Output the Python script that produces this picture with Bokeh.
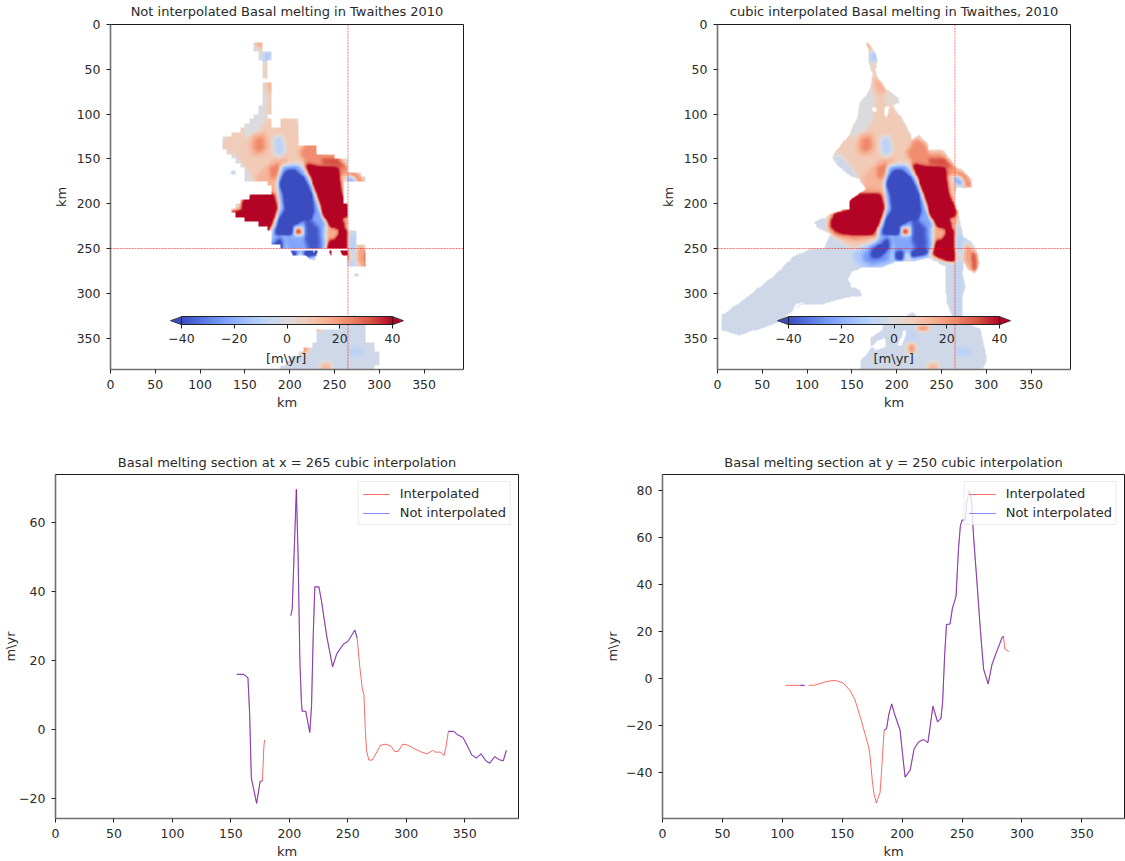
import numpy as np
from bokeh.plotting import figure
from bokeh.layouts import row, column
from bokeh.embed import file_html
from bokeh.resources import INLINE
from bokeh.models import (Range1d, FixedTicker, LinearColorMapper, ColorBar, Span, Label,
                          Legend, LegendItem)

nan = float("nan")
FONT = "DejaVu Sans"
TXT = "#2a2a2a"
TICK_FS = "12.5px"
TEXT_FS = "13px"

# ------------------------ data: sections (km, m/yr) ------------------------
sec_x_interp_km = [155, 161, 164.6, 166, 167.5, 172, 175, 177, 178.2, 178.8, nan,
    201.3, 202.5, 204, 206, 207.5, 209, 210.3, 211, 214, 217.5, 219, 220.4, 221.8, 225.3, 227.6,
    232, 237, 240.6, 246.5, 250, 253.7, 256, 258, 260, 262.3, 263.8, 265, 266, 268, 271, 274, 278,
    282.6, 287, 290, 293, 297, 301.4, 307, 313, 318, 322.5, 324.6, 329, 332.4, 334, 336, 340.5,
    344, 348.5, 352, 356, 360, 364, 368, 371.4, 375.7, 379.5, 383, 385.6]
sec_x_interp_val = [16, 16, 15, 5, -14, -21.3, -15, -14.8, -5, -3, nan,
    33, 35, 50, 69.5, 50, 20, 8, 5.3, 5.3, -0.8, 7, 27, 41.3, 41.3, 37,
    27, 18.2, 22, 24.8, 25.5, 27.5, 28.8, 26.5, 19, 12, 10, 0, -6, -8.8, -8.8, -7, -4.5,
    -4.2, -4.8, -6.3, -6.3, -4.2, -4.5, -5.5, -6.5, -7, -6, -6.5, -6.5, -7.5, -5, -0.5, -0.5,
    -1.5, -2.3, -4.5, -7.3, -8.2, -7, -9, -9.7, -7.8, -8.7, -9, -6]
sec_x_plain_km = [155, 161, 164.6, 166, 167.5, 172, 175, 177, nan,
    201.3, 202.5, 204, 206, 207.5, 209, 210.3, 211, 214, 217.5, 219, 220.4, 221.8, 225.3, 227.6,
    232, 237, 240.6, 246.5, 250, 253.7, 256, 258, nan,
    336, 340.5, 344, 348.5, 352, 356, 360, 364, 368, 371.4, 375.7, 379.5, 383, 385.6]
sec_x_plain_val = [16, 16, 15, 5, -14, -21.3, -15, -14.8, nan,
    33, 35, 50, 69.5, 50, 20, 8, 5.3, 5.3, -0.8, 7, 27, 41.3, 41.3, 37,
    27, 18.2, 22, 24.8, 25.5, 27.5, 28.8, 26.5, nan,
    -0.5, -0.5, -1.5, -2.3, -4.5, -7.3, -8.2, -7, -9, -9.7, -7.8, -8.7, -9, -6]

sec_y_interp_km = [102.8, 118.7, nan, 122, 127, 134, 141, 145, 151, 156.4, 160.6, 166, 172, 173, 175,
    176.5, 178.5, 181.6, 183, 185, 187, 189, 191.3, 193.6, 198.3, 200.3, 202.5, 206.7, 210, 213.7,
    217.9, 221.5, 223.5, 225.7, 229.6, 232.4, 233.8, 235.5, 237, 240, 242, 245, 247, 248.6, 250,
    252.8, 254, 256, 257.8, 259.7, 262.6, 265.4, 268, 271.8, 275, 279.3, 283.5, 284.6, 285.8, 289]
sec_y_interp_val = [-2.9, -2.9, nan, -2.9, -2.8, -1.7, -0.9, -0.9, -2, -5, -9, -18, -29, -32, -43,
    -49, -53, -48.5, -38, -22, -21.3, -15, -10.8, -15, -22, -32, -42, -39, -30, -27,
    -26, -27.3, -20, -11.8, -18.5, -17, -10, 10, 23, 23.2, 30, 35, 55, 65, 67.5,
    67.5, 75, 80, 76, 60, 40, 20, 4, -2.3, 6, 12, 17.5, 18, 12.5, 11.5]
sec_y_plain_km = [115, 118.7, nan, 185, 187, 189, 191.3, 193.6, 198.3, 200.3, 202.5, 206.7, 210, 213.7,
    217.9, 221.5, 223.5, 225.7, 229.6, 232.4, 233.8, 235.5, 237, 240, 242, 245, 247, 248.6, 250,
    252.8, 254, 256, 257.8, 259.7, 262.6, 265.4, 268, 271.8, 275, 279.3, 283.5, 284.6]
sec_y_plain_val = [-2.9, -2.9, nan, -22, -21.3, -15, -10.8, -15, -22, -32, -42, -39, -30, -27,
    -26, -27.3, -20, -11.8, -18.5, -17, -10, 10, 23, 23.2, 30, 35, 55, 65, 67.5,
    67.5, 75, 80, 76, 60, 40, 20, 4, -2.3, 6, 12, 17.5, 18]

# ------------------------ data: map outlines ------------------------
# traced coordinates are in 1/2.685 km; the interpolated panel's x has an offset of 6
shelf_outline = [(450,65),(465,75),(480,100),(488,120),(478,150),(490,175),(510,205),(545,228),(552,245),(530,255),
    (565,300),(590,355),(612,342),(635,370),(640,390),(670,385),(690,395),(710,425),(720,440),(745,450),(765,475),
    (770,500),(745,503),(725,500),(715,530),(718,550),(728,575),(733,605),(738,630),(745,650),(770,665),(785,695),
    (790,730),(778,760),(755,745),(745,725),(700,732),(680,735),(640,712),(580,725),(540,725),(500,740),(440,740),
    (410,755),(395,775),(410,800),(435,810),(440,825),(380,835),(320,850),(270,850),(235,865),(265,845),(240,850),
    (232,872),(180,910),(70,945),(20,930),(18,885),(80,840),(170,770),(230,710),(285,685),(325,683),(345,640),(310,625),
    (295,605),(330,590),(345,580),(400,565),(400,540),(430,520),(450,505),(430,475),(410,470),(370,440),(350,410),
    (360,395),(365,385),(400,345),(425,290),(430,250),(450,225),(465,200),(470,160),(458,120),(458,90)]
strip_outline = [(692,730),(745,725),(742,760),(750,800),(740,830),(738,900),(712,900),(695,850),(690,800)]
south_outline = [(590,872),(610,895),(740,895),(770,915),(795,925),(800,950),(810,1000),(812,1020),(800,1050),(436,1050),
    (436,1020),(465,985),(465,950),(500,930),(500,915),(555,900)]
hole_outlines = [[(465,978),(505,950),(512,980),(480,990)], [(545,975),(565,930),(572,935),(560,975)],
    [(470,262),(480,262),(480,272),(470,272)], [(505,262),(522,258),(515,288),(506,288)]]

plain_outline = [(428,72),(458,72),(458,88),(475,88),(480,115),(475,130),(475,170),(460,170),(460,185),(485,185),(485,255),
    (470,290),(490,315),(510,315),(515,298),(570,298),(560,340),(570,370),(620,370),(620,405),(690,410),(715,430),
    (715,450),(750,455),(765,485),(705,488),(695,520),(695,548),(715,555),(715,625),(735,625),(735,675),(765,675),
    (765,733),(718,733),(715,690),(530,690),(490,670),(480,625),(460,620),(420,600),(385,590),(365,578),(360,565),
    (385,545),(420,525),(490,525),(490,495),(465,485),(420,485),(400,470),(400,450),(380,425),(350,398),(330,372),
    (345,345),(390,330),(420,300),(450,260),(460,200),(460,170),(450,125),(445,90),(428,85)]
plain_south = [(622,925),(680,925),(730,885),(765,925),(765,960),(780,965),(805,995),(805,1020),(795,1050),(510,1050),
    (510,1040),(575,985),(605,985),(605,960),(622,960)]
plain_fine = [[(540,690),(610,690),(615,720),(595,715),(585,705),(545,705)], [(613,690),(620,690),(618,708),(613,708)],
    [(656,690),(664,690),(663,705),(657,705)], [(690,690),(715,690),(715,705),(695,705)],
    [(730,760),(743,760),(743,767),(730,767)], [(358,452),(372,450),(376,462),(362,460)]]

# value (m/yr) painted region by region, later regions over earlier ones
melt_regions = [
    (8,  [(450,65),(465,75),(480,100),(488,120),(478,150),(490,175),(510,205),(545,228),(552,245),(530,255),(565,300),(590,355),
          (612,342),(635,370),(640,390),(670,385),(690,395),(710,425),(725,440),(720,530),(725,600),(650,700),(430,700),(345,640),
          (400,540),(450,505),(430,475),(405,470),(365,430),(355,400),(400,345),(425,290),(430,250),(450,225),(465,200),(470,160),(458,120)]),
    (7,  [(330,385),(350,340),(396,320),(430,290),(450,300),(430,345),(405,405),(370,405)]),
    (-1, [(435,250),(450,225),(465,200),(478,240),(470,300),(450,330),(410,350),(403,340),(425,290)]),
    (14, [(430,55),(478,55),(472,88),(445,85)]),
    (-12,[(462,92),(484,92),(484,125),(462,125)]),
    (5,  [(460,130),(490,130),(490,180),(465,180)]),
    (14, [(472,170),(495,175),(515,210),(500,225),(478,205)]),
    (2,  [(505,215),(550,230),(535,260),(510,250)]),
    (-4, [(350,410),(375,400),(425,462),(405,472),(365,430)]),
    (14, [(430,345),(470,335),(480,370),(470,405),(430,405),(420,375)]),
    (23, [(440,352),(465,348),(470,382),(450,397),(435,385)]),
    (-9, [(495,350),(520,345),(532,392),(510,410),(495,395)]),
    (22, [(570,395),(600,352),(632,370),(640,400),(680,400),(716,440),(716,470),(640,440),(590,430)]),
    (32, [(640,412),(690,412),(716,440),(700,442),(640,432)]),
    (14, [(440,470),(490,420),(540,410),(520,450),(500,510),(440,510)]),
    (24, [(482,440),(512,425),(516,440),(500,478),(485,472)]),
    (22, [(718,445),(750,455),(770,490),(770,503),(745,503),(745,480),(720,462)]),
    (-20,[(710,462),(740,478),(745,495),(718,490)]),
    (-22,[(520,435),(570,430),(600,470),(625,530),(645,585),(660,620),(650,690),(630,705),(520,720),(490,690),(490,630),(515,560),(505,490)]),
    (60, [(590,430),(640,440),(690,445),(700,520),(710,545),(725,575),(710,615),(700,625),(715,625),(718,690),(718,725),
          (690,720),(650,705),(655,680),(665,625),(640,580),(620,510)]),
    (16, [(652,612),(695,628),(680,660),(650,660)]),
    (14, [(698,590),(725,585),(730,610),(705,612)]),
    (-60,[(530,452),(560,450),(590,480),(610,530),(615,570),(610,590),(575,600),(550,640),(500,640),(510,600),(530,570),(525,520),(515,490)]),
    (-38,[(600,590),(630,620),(635,680),(600,690),(585,650),(580,610)]),
    (-12,[(410,690),(530,640),(540,735),(450,748),(415,725)]),
    (-25,[(440,700),(490,655),(530,650),(520,722),(470,735),(440,720)]),
    (-52,[(470,688),(500,670),(515,650),(522,680),(492,710),(466,710)]),
    (-52,[(540,692),(565,692),(565,720),(540,720)]),
    (-52,[(585,692),(635,685),(635,705),(585,712)]),
    (-10,[(552,612),(588,612),(590,650),(552,650)]),
    (48, [(562,624),(579,624),(579,640),(562,640)]),
    (12, [(570,695),(578,695),(578,716),(570,716)]),
    (22, [(335,610),(345,575),(395,560),(395,535),(430,505),(500,510),(510,560),(495,610),(480,650),(420,660),(360,650),(335,630)]),
    (60, [(347,600),(360,580),(400,572),(402,542),(432,522),(495,522),(503,565),(490,610),(470,640),(420,642),(370,636),(347,620)]),
    (18, [(745,665),(785,695),(790,730),(778,760),(760,750),(745,722)]),
    (50, [(770,695),(776,695),(782,750),(776,750)]),
    (-9, [(715,640),(745,640),(748,690),(715,690)]),
    (-7, [(712,725),(738,725),(738,895),(712,895)]),
    (-4, [(590,895),(800,895),(812,1050),(436,1050),(470,950)]),
    (-9, [(720,980),(760,980),(765,1005),(725,1010)]),
    (-7, [(570,925),(610,935),(610,965),(570,965)]),
    (22, [(605,915),(640,915),(640,932),(605,932)]),
    (20, [(575,968),(600,968),(598,998),(577,998)]),
    (12, [(635,1025),(670,1025),(670,1050),(635,1050)]),
]

# tick labels and colours
map_ticks = [0, 50, 100, 150, 200, 250, 300, 350]
x_section_ticks = [-20, 0, 20, 40, 60]
y_section_ticks = [-40, -20, 0, 20, 40, 60, 80]
cbar_ticks = [-40, -20, 0, 20, 40]
coolwarm_hex = ["#3b4cc0","#5977e3","#7b9ff9","#9ebeff","#c0d4f5","#dddcdc","#f2cbb7","#f7ac8e","#ee8468","#d65244","#b40426"]

# ------------------------ rasterising ------------------------
W_KM, H_KM = 394, 385
cx = np.arange(W_KM) + 0.5
cy = np.arange(H_KM) + 0.5
GX, GY = np.meshgrid(cx, cy)

def to_km(pts, off):
    a = np.array(pts, float)
    return (a[:, 0] - off) / 2.685, (a[:, 1] - 12) / 2.688

def inside(pts, off, X=GX, Y=GY):
    xs, ys = to_km(pts, off)
    res = np.zeros(X.shape, bool)
    xj, yj = np.roll(xs, 1), np.roll(ys, 1)
    for a, b, c, d in zip(xs, ys, xj, yj):
        if b == d:
            continue
        cond = (b > Y) != (d > Y)
        res ^= cond & (X < (c - a) * (Y - b) / (d - b) + a)
    return res

def blur(a, r, n=2):
    k = np.ones(2 * r + 1) / (2 * r + 1)
    for _ in range(n):
        p = np.pad(a, r, mode="edge")
        p = np.apply_along_axis(lambda m: np.convolve(m, k, "valid"), 0, p)
        p = np.apply_along_axis(lambda m: np.convolve(m, k, "valid"), 1, p)
        a = p
    return a

field = np.full(GX.shape, -4.0)
for v, poly in melt_regions:
    field[inside(poly, 6)] = v
field = blur(field, 2)

mask_r = inside(shelf_outline, 6) | inside(strip_outline, 6) | inside(south_outline, 6)
for h in hole_outlines:
    mask_r &= ~inside(h, 6)

# not interpolated panel: 5 km cells
bx = (np.arange(W_KM) // 5) * 5 + 2.5
by = (np.arange(H_KM) // 5) * 5 + 2.5
BX, BY = np.meshgrid(bx, by)
mask_l = inside(plain_outline, 0, BX, BY) | inside(plain_south, 0, BX, BY)
for h in plain_fine:
    mask_l |= inside(h, 0)

img_r = np.where(mask_r, field, np.nan)
img_l = np.where(mask_l, field, np.nan)

def hex2rgb(h):
    return [int(h[i:i + 2], 16) for i in (1, 3, 5)]
anch = np.array([hex2rgb(h) for h in coolwarm_hex], float)
pos = np.linspace(0, 1, len(anch))
palette = ["#%02x%02x%02x" % tuple(int(round(np.interp(t, pos, anch[:, i]))) for i in range(3))
           for t in np.linspace(0, 1, 256)]

def style(p, xlab, ylab, title, yticks, xticks, ylab_standoff, title_standoff):
    p.title.text = title
    p.title.align = "center"
    p.title.text_font = FONT
    p.title.text_font_size = TEXT_FS
    p.title.text_font_style = "normal"
    p.title.text_color = TXT
    p.title.standoff = title_standoff
    p.grid.visible = False
    p.outline_line_color = "#1a1a1a"
    p.outline_line_width = 1
    for ax in (p.xaxis[0], p.yaxis[0]):
        ax.major_label_text_font = FONT
        ax.major_label_text_font_size = TICK_FS
        ax.major_label_text_color = TXT
        ax.axis_label_text_font = FONT
        ax.axis_label_text_font_size = TEXT_FS
        ax.axis_label_text_font_style = "normal"
        ax.axis_label_text_color = TXT
        ax.major_tick_in = 0
        ax.major_tick_out = 4
        ax.minor_tick_out = 0
        ax.minor_tick_in = 0
        ax.major_tick_line_color = "#222222"
        ax.axis_line_color = "#707070"
        ax.axis_line_width = 1.6
        ax.major_label_standoff = 6
    p.xaxis[0].axis_label = xlab
    p.yaxis[0].axis_label = ylab
    p.xaxis[0].ticker = FixedTicker(ticks=xticks)
    p.yaxis[0].ticker = FixedTicker(ticks=yticks)
    p.xaxis[0].axis_label_standoff = 3
    p.yaxis[0].axis_label_standoff = ylab_standoff
    p.yaxis[0].major_label_overrides = {t: str(t).replace("-", "\u2212") for t in yticks if t < 0}
    return p

def map_panel(w, left, right, title, img, lab_x):
    p = figure(width=w, height=434, x_range=Range1d(0, W_KM), y_range=Range1d(H_KM, 0),
               output_backend="svg", toolbar_location=None, min_border_left=left, min_border_right=right,
               min_border_top=28, min_border_bottom=61, frame_align=False)
    style(p, "km", "km", title, map_ticks, map_ticks, 5, 11)
    mapper = LinearColorMapper(palette=palette, low=-40, high=40, nan_color=(0, 0, 0, 0))
    p.image(image=[img], x=0, y=0, dw=W_KM, dh=H_KM, color_mapper=mapper)
    p.add_layout(Span(location=265, dimension="height", line_color="red", line_width=1, line_alpha=0.55, line_dash="2 1"))
    p.add_layout(Span(location=250, dimension="width", line_color="red", line_width=1, line_alpha=0.55, line_dash="2 1"))
    # extension triangles of the colour bar
    p.patch([79.3, 67, 79.3], [326, 330.5, 335], fill_color=coolwarm_hex[0], line_color="#222222", line_width=0.8)
    p.patch([315, 327, 315], [326, 330.5, 335], fill_color=coolwarm_hex[-1], line_color="#222222", line_width=0.8)
    cb = ColorBar(color_mapper=mapper, orientation="horizontal", location=(71, 24), width=211, height=8, padding=0,
                  ticker=FixedTicker(ticks=cbar_ticks), background_fill_alpha=0, border_line_color=None,
                  bar_line_color="#222222", major_tick_in=0, major_tick_out=4, major_tick_line_color="#222222",
                  minor_tick_line_color=None, major_label_text_font=FONT, major_label_text_font_size=TICK_FS,
                  major_label_text_color=TXT, label_standoff=5,
                  major_label_overrides={t: str(t).replace("-", "\u2212") for t in cbar_ticks if t < 0})
    p.add_layout(cb, "center")
    p.add_layout(Label(x=lab_x, y=373, text="[m\\yr]", text_align="center", text_baseline="middle",
                       text_font=FONT, text_font_size=TEXT_FS, text_color=TXT))
    return p

def section_panel(w, left, right, title, xs_i, ys_i, xs_p, ys_p, xr, yr, yticks, ylab_standoff):
    p = figure(width=w, height=431, x_range=Range1d(0, xr), y_range=Range1d(*yr),
               output_backend="svg", toolbar_location=None, min_border_left=left, min_border_right=right,
               min_border_top=44, min_border_bottom=43, frame_align=False)
    style(p, "km", "m\\yr", title, yticks, map_ticks, ylab_standoff, 10)
    r1 = p.line(xs_i, ys_i, line_color="#ff1010", line_width=0.9, line_alpha=0.7)
    r2 = p.line(xs_p, ys_p, line_color="#1010ff", line_width=1.1, line_alpha=0.5)
    leg = Legend(items=[LegendItem(label="Interpolated", renderers=[r1]),
                        LegendItem(label="Not interpolated", renderers=[r2])],
                 location="top_right", margin=7, padding=4, spacing=4, glyph_width=27, glyph_height=14,
                 label_standoff=10, label_text_font=FONT, label_text_font_size=TEXT_FS, label_text_color=TXT,
                 border_line_color="#d8d8d8", border_line_width=1.5, background_fill_alpha=0.8, label_height=14)
    p.add_layout(leg, "center")
    return p

tl = map_panel(560, 110, 97, "Not interpolated Basal melting in Twaithes 2010", img_l, 196)
tr = map_panel(565, 157, 55, "cubic interpolated Basal melting in Twaithes, 2010", img_r, 196.6)
bl = section_panel(560, 55, 42, "Basal melting section at x = 265 cubic interpolation",
                   sec_x_interp_km, sec_x_interp_val, sec_x_plain_km, sec_x_plain_val,
                   396, (-25.7, 73.8), x_section_ticks, -2)
br = section_panel(565, 102, 1, "Basal melting section at y = 250 cubic interpolation",
                   sec_y_interp_km, sec_y_interp_val, sec_y_plain_km, sec_y_plain_val,
                   385.6, (-59.6, 86.9), y_section_ticks, 3)

root = row(column(tl, bl, spacing=0), column(tr, br, spacing=0), spacing=0, margin=(-4, 0, 0, 0))
open("out.html", "w").write(file_html(root, INLINE))
